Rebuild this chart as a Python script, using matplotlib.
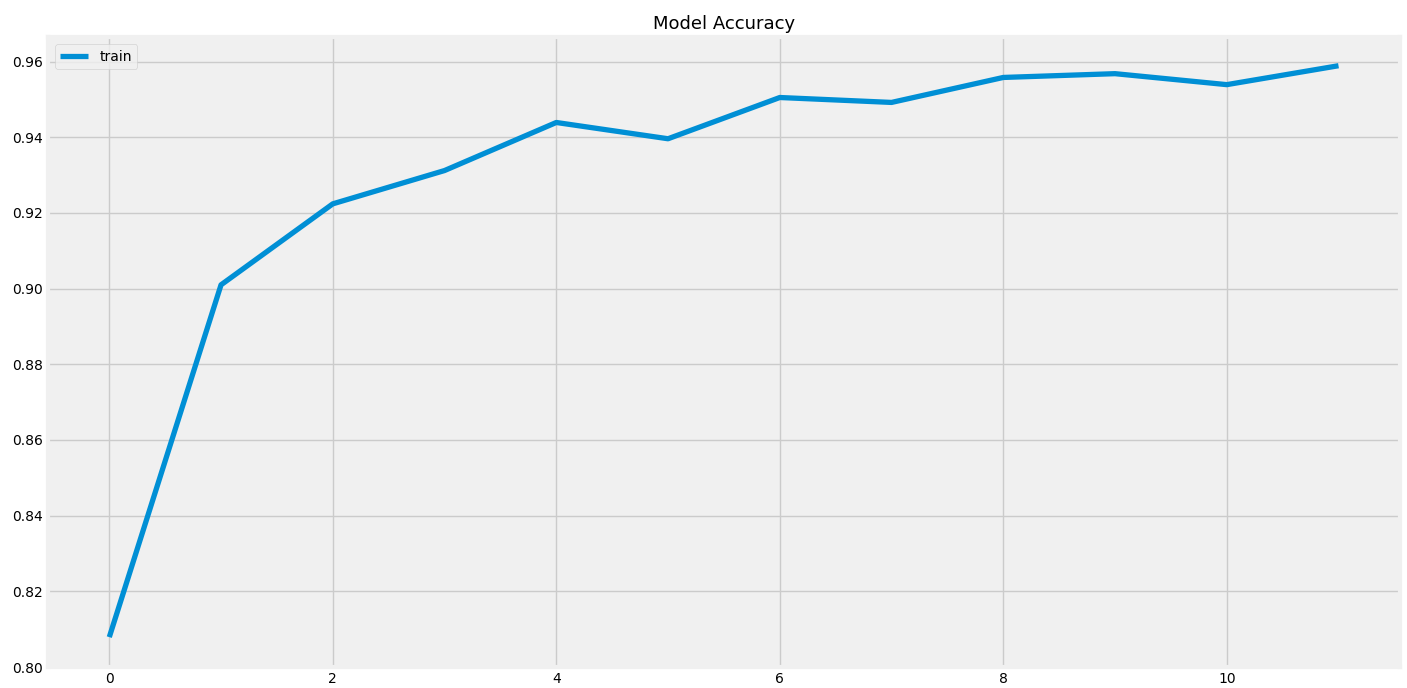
import matplotlib
matplotlib.use("Agg")
import matplotlib.pyplot as plt

plt.style.use("fivethirtyeight")

epochs = list(range(12))
train_acc = [0.8079, 0.9010, 0.9224, 0.9312, 0.9439, 0.9396,
             0.9505, 0.9492, 0.9558, 0.9568, 0.9539, 0.9589]

fig = plt.figure(figsize=(14.07, 6.88), dpi=100, facecolor="white")
ax = fig.add_axes([0.034, 0.0305, 0.961, 0.9155])
ax.plot(epochs, train_acc, color="#008fd5", linewidth=3.8, label="train")
ax.set_title("Model Accuracy", fontsize=13, pad=6)
ax.tick_params(labelsize=10)
ax.set_xticks([0, 2, 4, 6, 8, 10])
ax.set_yticks([0.80, 0.82, 0.84, 0.86, 0.88, 0.90, 0.92, 0.94, 0.96])
ax.legend(loc="upper left", fontsize=10)

fig.savefig("out.png", facecolor="white")
